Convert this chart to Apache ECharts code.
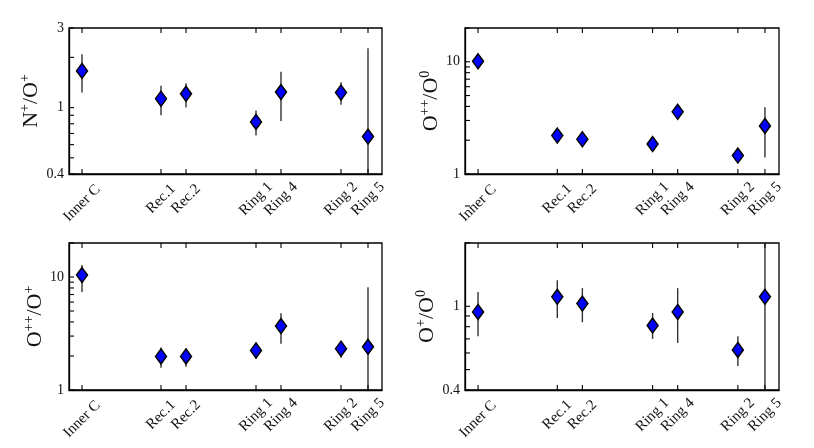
<!DOCTYPE html>
<html>
<head>
    <meta charset="utf-8">
</head>
<body style="margin: 0; background: #fff">
<div id="container" style="width: 814px; height: 448px;"></div>
<script src="https://cdn.jsdelivr.net/npm/echarts@6/dist/echarts.min.js"></script>
<script type="text/javascript">
    // regions along the slit, positions on the x axis (0 - 313)
    var sites = ['Inner C', 'Rec.1', 'Rec.2', 'Ring 1', 'Ring 4', 'Ring 2', 'Ring 5'];
    var sitePos = [13, 92, 117, 187, 212, 272, 299];

    // N+/O+
    var nOpVal = [1.66, 1.13, 1.21, 0.82, 1.24, 1.23, 0.67];
    var nOpLo = [1.23, 0.90, 1.00, 0.68, 0.83, 1.04, 0.30];
    var nOpHi = [2.09, 1.35, 1.40, 0.96, 1.64, 1.42, 2.27];

    // O++/O0
    var oppO0Val = [10.1, 2.20, 2.04, 1.85, 3.58, 1.46, 2.68];
    var oppO0Lo = [9.4, 2.08, 1.94, 1.76, 3.25, 1.39, 1.40];
    var oppO0Hi = [10.8, 2.33, 2.15, 1.95, 4.00, 1.54, 3.94];

    // O++/O+
    var oppOpVal = [10.4, 1.98, 1.98, 2.24, 3.68, 2.32, 2.41];
    var oppOpLo = [7.35, 1.57, 1.61, 1.89, 2.56, 1.93, 0.80];
    var oppOpHi = [12.8, 2.38, 2.33, 2.56, 4.79, 2.65, 8.13];

    // O+/O0
    var opO0Val = [0.94, 1.11, 1.03, 0.81, 0.94, 0.62, 1.11];
    var opO0Lo = [0.72, 0.88, 0.84, 0.70, 0.67, 0.52, 0.30];
    var opO0Hi = [1.17, 1.33, 1.22, 0.93, 1.22, 0.72, 3.00];

    // y tick values (all ticks) and labelled ticks
    var ticksSmall = [0.4, 0.5, 0.6, 0.7, 0.8, 0.9, 1, 2, 3];
    var ticksBig = [1, 2, 3, 4, 5, 6, 7, 8, 9, 10, 20];
    var labelsNO = [0.4, 1, 3];
    var labelsOO = [1, 10];
    var labelsOpO = [0.4, 1];

    var font = 'Liberation Serif';
    var ink = '#111';

    var panels = [
        {val: nOpVal, lo: nOpLo, hi: nOpHi, min: 0.4, max: 3, ticks: ticksSmall, labels: labelsNO,
            name: '{b|N}{s|+}{b|/O}{s|+}', grid: {left: 69, top: 28, width: 313, height: 146}, gap: 24},
        {val: oppO0Val, lo: oppO0Lo, hi: oppO0Hi, min: 1, max: 20, ticks: ticksBig, labels: labelsOO,
            name: '{b|O}{s|++}{b|/O}{s|0}', grid: {left: 465, top: 28, width: 314, height: 146}, gap: 20},
        {val: oppOpVal, lo: oppOpLo, hi: oppOpHi, min: 1, max: 20, ticks: ticksBig, labels: labelsOO,
            name: '{b|O}{s|++}{b|/O}{s|+}', grid: {left: 69, top: 243, width: 313, height: 147}, gap: 20},
        {val: opO0Val, lo: opO0Lo, hi: opO0Hi, min: 0.4, max: 2, ticks: ticksSmall, labels: labelsOpO,
            name: '{b|O}{s|+}{b|/O}{s|0}', grid: {left: 465, top: 243, width: 314, height: 147}, gap: 24}
    ];

    var dom = document.getElementById('container');
    var myChart = echarts.init(dom);

    var option = {
        animation: false,
        backgroundColor: '#fff',
        grid: [],
        xAxis: [],
        yAxis: [],
        series: []
    };

    function fmtY(v) {
        return String(+(+v).toPrecision(3));
    }

    // rotated labels are centred under the tick; the longer one is pushed down a little
    function fmtX(v) {
        var s = sites[sitePos.indexOf(+v)];
        return s.length > 6 ? '{w|' + s + '}' : s;
    }

    function tickLine(x1, y1, x2, y2) {
        return {type: 'line', shape: {x1: x1, y1: y1, x2: x2, y2: y2},
            style: {stroke: '#000', lineWidth: 1.1}};
    }

    panels.forEach(function (p, i) {
        var g = p.grid;
        option.grid.push({
            left: g.left, top: g.top, width: g.width, height: g.height,
            show: true, borderColor: '#000', borderWidth: 1.3, backgroundColor: 'transparent'
        });
        option.xAxis.push({
            type: 'value', gridIndex: i, min: 0, max: 313, position: 'bottom',
            splitLine: {show: false},
            axisLine: {show: true, lineStyle: {color: '#000', width: 1.3}},
            axisTick: {show: false},
            axisLabel: {
                customValues: sitePos, rotate: 45, margin: 25,
                align: 'center', verticalAlign: 'middle',
                fontFamily: font, fontSize: 15, color: ink,
                formatter: fmtX,
                rich: {
                    w: {fontFamily: font, fontSize: 15, color: ink, padding: [6, 6, 0, 0]}
                }
            }
        });
        option.yAxis.push({
            type: 'log', logBase: 10, gridIndex: i, min: p.min, max: p.max,
            splitLine: {show: false},
            axisLine: {show: true, lineStyle: {color: '#000', width: 1.3}},
            axisTick: {show: false},
            axisLabel: {
                customValues: p.labels, margin: 5,
                fontFamily: font, fontSize: 14, color: ink,
                formatter: fmtY
            },
            name: p.name, nameLocation: 'middle', nameGap: p.gap, nameRotate: 90,
            nameTextStyle: {
                fontFamily: font, fontSize: 22, color: ink,
                rich: {
                    b: {fontFamily: font, fontSize: 22, lineHeight: 26, color: ink},
                    s: {fontFamily: font, fontSize: 14, lineHeight: 14, verticalAlign: 'top', color: ink}
                }
            }
        });
        // y ticks, inward from the left edge
        option.series.push({
            type: 'custom', xAxisIndex: i, yAxisIndex: i, silent: true, z: 4,
            data: p.ticks.map(function (v) { return [0, v]; }),
            renderItem: function (params, api) {
                var a = api.coord([0, api.value(1)]);
                return tickLine(a[0], a[1], a[0] + 5, a[1]);
            }
        });
        // x ticks, inward on bottom and top edges
        option.series.push({
            type: 'custom', xAxisIndex: i, yAxisIndex: i, silent: true, z: 4,
            data: sitePos.map(function (x) { return [x, p.min]; }),
            renderItem: function (params, api) {
                var b = api.coord([api.value(0), p.min]);
                var t = api.coord([api.value(0), p.max]);
                return {type: 'group', children: [
                    tickLine(b[0], b[1], b[0], b[1] - 5),
                    tickLine(t[0], t[1], t[0], t[1] + 5)
                ]};
            }
        });
        // error bars
        option.series.push({
            type: 'custom', xAxisIndex: i, yAxisIndex: i, clip: true, z: 2,
            data: sitePos.map(function (x, k) { return [x, p.lo[k], p.hi[k]]; }),
            renderItem: function (params, api) {
                var a = api.coord([api.value(0), api.value(1)]);
                var b = api.coord([api.value(0), api.value(2)]);
                return {
                    type: 'line',
                    shape: {x1: a[0], y1: a[1], x2: b[0], y2: b[1]},
                    style: {stroke: '#333', lineWidth: 1.4}
                };
            }
        });
        // points
        option.series.push({
            type: 'scatter', xAxisIndex: i, yAxisIndex: i, z: 3,
            symbol: 'diamond', symbolSize: [11, 15],
            itemStyle: {color: '#0000ff', borderColor: '#000', borderWidth: 1.5, opacity: 1},
            data: sitePos.map(function (x, k) { return [x, p.val[k]]; })
        });
    });

    myChart.setOption(option);
</script>
</body>
</html>
